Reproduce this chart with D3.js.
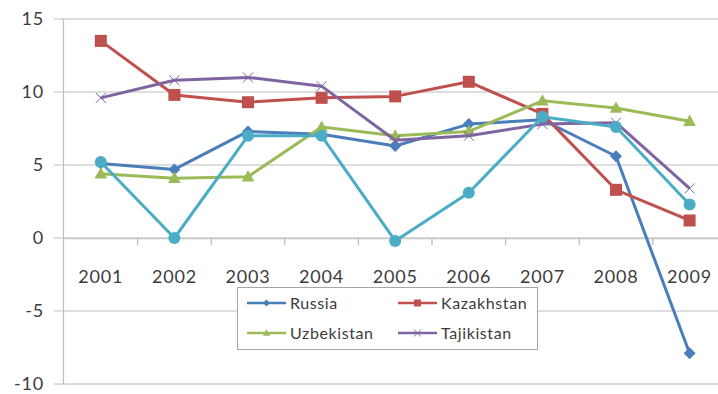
<!DOCTYPE html>
<html>
<head>
<meta charset="utf-8">
<script src="https://cdn.jsdelivr.net/npm/d3@7"></script>
<style>
  body { margin: 0; background: #fff; }
  svg { display: block; font-family: Lato, "Open Sans", sans-serif; }
</style>
</head>
<body>
<script>
// GDP growth, % per year
const years = ['2001', '2002', '2003', '2004', '2005', '2006', '2007', '2008', '2009'];
const russia     = [5.1, 4.7, 7.3, 7.1, 6.3, 7.8, 8.1, 5.6, -7.9];
const kazakhstan = [13.5, 9.8, 9.3, 9.6, 9.7, 10.7, 8.5, 3.3, 1.2];
const uzbekistan = [4.4, 4.1, 4.2, 7.6, 7.0, 7.3, 9.4, 8.9, 8.0];
const tajikistan = [9.6, 10.8, 11.0, 10.4, 6.7, 7.0, 7.8, 7.9, 3.4];
const kyrgyzstan = [5.2, 0.0, 7.0, 7.0, -0.2, 3.1, 8.3, 7.6, 2.3];
const yTicks = [15, 10, 5, 0, -5, -10];

const series = [
  { name: 'Russia', values: russia, color: '#4a7ebb', marker: 'diamond', size: 12 },
  { name: 'Kazakhstan', values: kazakhstan, color: '#c0504d', marker: 'square', size: 12 },
  { name: 'Uzbekistan', values: uzbekistan, color: '#9bbb59', marker: 'triangle', size: 12 },
  { name: 'Tajikistan', values: tajikistan, color: '#8064a2', marker: 'cross', size: 10 },
  { name: null, values: kyrgyzstan, color: '#4bacc6', marker: 'circle', size: 12 }
];

const width = 718, height = 394;
const svg = d3.select('body').append('svg')
  .attr('width', width)
  .attr('height', height);

const x = d3.scaleBand().domain(years).range([64, 726.4]);
const y = d3.scaleLinear().domain([-10, 15]).range([384, 19]);
const cx = d => x(d) + x.bandwidth() / 2;

// horizontal gridlines (they also act as the y ticks)
svg.append('g')
  .selectAll('line')
  .data(yTicks)
  .join('line')
  .attr('x1', 54).attr('x2', 726)
  .attr('y1', d => y(d)).attr('y2', d => y(d))
  .attr('stroke', '#d3d3d3')
  .attr('stroke-width', 1.6);

// y axis line
svg.append('line')
  .attr('x1', 63.5).attr('x2', 63.5)
  .attr('y1', y(15)).attr('y2', y(-10))
  .attr('stroke', '#bdbdbd')
  .attr('stroke-width', 1.2);

// y labels
svg.append('g')
  .selectAll('text')
  .data(yTicks)
  .join('text')
  .attr('x', 44)
  .attr('y', d => y(d))
  .attr('dy', '0.36em')
  .attr('text-anchor', 'end')
  .attr('font-size', 18)
  .attr('letter-spacing', 0.8)
  .attr('fill', '#3c3c3c')
  .text(d => d);

// x axis along zero, ticks between categories
const xAxis = svg.append('g')
  .attr('transform', `translate(0,${y(0)})`)
  .call(d3.axisBottom(x).tickSize(0).tickFormat(''));
xAxis.select('.domain').attr('stroke', '#c8c8c8').attr('stroke-width', 1.6);
xAxis.selectAll('.between')
  .data(years.slice(1))
  .join('line')
  .attr('class', 'between')
  .attr('x1', d => x(d)).attr('x2', d => x(d))
  .attr('y1', 0).attr('y2', 7)
  .attr('stroke', '#c0c0c0')
  .attr('stroke-width', 1.4);

svg.append('g')
  .selectAll('text')
  .data(years)
  .join('text')
  .attr('x', d => cx(d))
  .attr('y', 283)
  .attr('text-anchor', 'middle')
  .attr('font-size', 18)
  .attr('letter-spacing', 0.8)
  .attr('fill', '#3c3c3c')
  .text(d => d);

// marker shapes
function drawMarker(g, type, size, color) {
  const s = size / 2;
  if (type === 'diamond') {
    g.append('path').attr('d', `M0,${-s}L${s},0L0,${s}L${-s},0Z`).attr('fill', color);
  } else if (type === 'square') {
    g.append('rect').attr('x', -s).attr('y', -s).attr('width', size).attr('height', size)
      .attr('fill', color);
  } else if (type === 'triangle') {
    g.append('path').attr('d', `M0,${-s * 1.1}L${s * 1.05},${s * 0.8}L${-s * 1.05},${s * 0.8}Z`)
      .attr('fill', color);
  } else if (type === 'cross') {
    g.append('path').attr('d', `M${-s},${-s}L${s},${s}M${-s},${s}L${s},${-s}`)
      .attr('stroke', color).attr('stroke-width', 1).attr('fill', 'none');
  } else if (type === 'circle') {
    g.append('circle').attr('r', s).attr('fill', color);
  }
}

const line = d3.line()
  .x((d, i) => cx(years[i]))
  .y(d => y(d));

series.forEach(s => {
  const g = svg.append('g');
  g.append('path')
    .attr('d', line(s.values))
    .attr('fill', 'none')
    .attr('stroke', s.color)
    .attr('stroke-width', 3)
    .attr('stroke-linejoin', 'round');
  s.values.forEach((v, i) => {
    const m = g.append('g').attr('transform', `translate(${cx(years[i])},${y(v)})`);
    drawMarker(m, s.marker, s.size, s.color);
  });
});

// legend
const legend = svg.append('g');
legend.append('rect')
  .attr('x', 237.5).attr('y', 287.5)
  .attr('width', 300).attr('height', 62)
  .attr('fill', '#fff')
  .attr('stroke', '#a6a6a6');

const legendItems = series.filter(s => s.name);
const colX = [247, 398];
const rowY = [303, 333];
legendItems.forEach((s, i) => {
  const lx = colX[i % 2], ly = rowY[Math.floor(i / 2)];
  const item = legend.append('g');
  item.append('line')
    .attr('x1', lx).attr('x2', lx + 39)
    .attr('y1', ly).attr('y2', ly)
    .attr('stroke', s.color)
    .attr('stroke-width', 2.4);
  const m = item.append('g').attr('transform', `translate(${lx + 19.5},${ly})`);
  drawMarker(m, s.marker, 7, s.color);
  item.append('text')
    .attr('x', lx + 43)
    .attr('y', ly)
    .attr('dy', '0.36em')
    .attr('font-size', 16)
    .attr('letter-spacing', 0.6)
    .attr('fill', '#3c3c3c')
    .text(s.name);
});
</script>
</body>
</html>
